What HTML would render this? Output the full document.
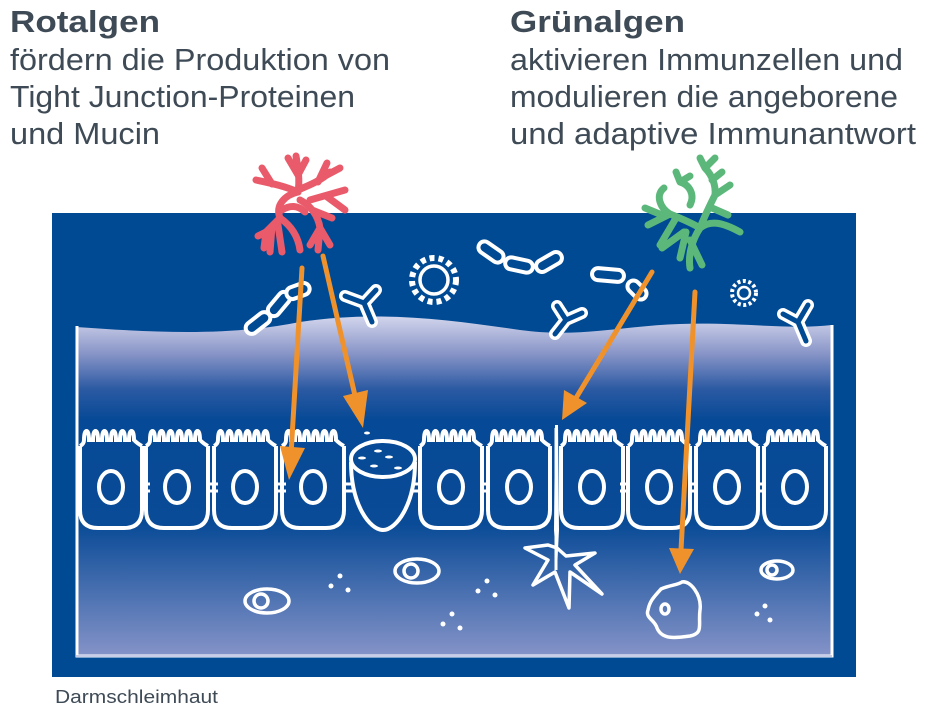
<!DOCTYPE html>
<html><head><meta charset="utf-8"><style>
html,body{margin:0;padding:0;background:#fff;}
svg{display:block;}
</style></head><body>
<svg width="945" height="709" viewBox="0 0 945 709" xmlns="http://www.w3.org/2000/svg">
<defs>
<linearGradient id="g1" x1="0" y1="0" x2="0" y2="1">
<stop offset="0" stop-color="#d2d5ec"/>
<stop offset="0.35" stop-color="#8a96c8"/>
<stop offset="0.7" stop-color="#2c5aa3"/>
<stop offset="1" stop-color="#064996"/>
</linearGradient>
<linearGradient id="g2" x1="0" y1="0" x2="0" y2="1">
<stop offset="0" stop-color="#064996"/>
<stop offset="0.42" stop-color="#0a4b97"/>
<stop offset="1" stop-color="#8593c8"/>
</linearGradient>
<g id="cell" fill="none" stroke="#fff" stroke-width="4">
<path d="M2,446 L2,510 Q2,528 20,528 L46,528 Q64,528 64,510 L64,446" />
<path d="M2,446 Q6,444 6,440 c0,-12 5,-12 5,0 l4,0 c0,-12 5,-12 5,0 l4,0 c0,-12 5,-12 5,0 l4,0 c0,-12 5,-12 5,0 l4,0 c0,-12 5,-12 5,0 l4,0 c0,-12 5,-12 5,0 Q60,444 64,446"/>
<ellipse cx="33" cy="487" rx="12" ry="16"/>
</g>
</defs>
<rect x="52" y="213" width="804" height="464" fill="#004a94"/>
<path d="M76,327 C160,333 230,336 300,322 C380,310 450,320 520,330 C580,338 620,326 680,324 C740,322 790,330 832,325 L832,420 L76,420 Z" fill="url(#g1)"/>
<rect x="76" y="419" width="756" height="14" fill="#064996"/>
<rect x="76" y="430" width="756" height="226" fill="url(#g2)"/>
<path d="M77,326 L77,656 L832,656 L832,325" fill="none" stroke="#fff" stroke-width="3"/>
<path d="M76,656 L832,656" stroke="#c8cde8" stroke-width="2"/>
<!-- cells -->
<use href="#cell" x="78"/>
<use href="#cell" x="144"/>
<use href="#cell" x="212"/>
<use href="#cell" x="280"/>
<use href="#cell" x="418"/>
<use href="#cell" x="486"/>
<use href="#cell" x="559"/>
<use href="#cell" x="626"/>
<use href="#cell" x="694"/>
<use href="#cell" x="762"/>
<!-- junctions -->
<g stroke="#fff" stroke-width="3">
<path d="M140,484h10M140,491h10M208,484h10M208,491h10M276,484h10M276,491h10M344,484h10M344,491h10M412,484h10M412,491h10M480,484h10M480,491h10M620,484h10M620,491h10M688,484h10M688,491h10M756,484h10M756,491h10"/>
</g>
<!-- goblet cell -->
<g fill="none" stroke="#fff" stroke-width="4">
<ellipse cx="383" cy="459" rx="32" ry="18"/>
<path d="M351,462 C351,505 370,530 383,530 C396,530 415,505 415,462"/>
</g>
<g fill="#fff"><ellipse cx="367" cy="433" rx="3" ry="1.5"/><ellipse cx="378" cy="451" rx="4" ry="1.5"/><ellipse cx="362" cy="458" rx="4" ry="1.5"/><ellipse cx="389" cy="457" rx="4" ry="1.5"/><ellipse cx="374" cy="466" rx="4" ry="1.5"/><ellipse cx="398" cy="468" rx="4" ry="1.5"/></g>
<!-- spike between cells -->
<path d="M555,425 L558,425 L559,530 L557,570 L554,530 Z" fill="#fff"/>
<line x1="556" y1="428" x2="556" y2="570" stroke="#fff" stroke-width="3"/>
<!-- star cell -->
<path d="M557,548 L548,545 L525,548 L548,560 L533,585 L555,572 L569,608 L570,572 L602,594 L575,565 L595,553 L566,556 Z" fill="none" stroke="#fff" stroke-width="3.5" stroke-linejoin="round"/>
<!-- lower cells -->
<g fill="none" stroke="#fff" stroke-width="3.5">
<ellipse cx="267" cy="601" rx="22" ry="12"/><circle cx="261" cy="601" r="7"/>
<ellipse cx="417" cy="571" rx="22" ry="12"/><circle cx="411" cy="571" r="7"/>
<ellipse cx="777" cy="570" rx="16" ry="9"/><circle cx="772" cy="570" r="5"/>
<path d="M661,589 C670,585 678,585 682,582 C690,580 702,595 700,610 C698,625 704,633 690,636 C676,638 662,640 657,628 C655,620 645,618 648,610 C650,600 655,596 661,589 Z"/>
<ellipse cx="665" cy="609" rx="4" ry="5"/>
</g>
<g fill="#fff">
<circle cx="340" cy="576" r="2.5"/><circle cx="331" cy="586" r="2.5"/><circle cx="348" cy="590" r="2.5"/>
<circle cx="487" cy="581" r="2.5"/><circle cx="478" cy="591" r="2.5"/><circle cx="495" cy="595" r="2.5"/>
<circle cx="452" cy="614" r="2.5"/><circle cx="443" cy="624" r="2.5"/><circle cx="460" cy="628" r="2.5"/>
<circle cx="765" cy="606" r="2.5"/><circle cx="757" cy="614" r="2.5"/><circle cx="770" cy="620" r="2.5"/>
</g>
<!-- bacteria -->
<g fill="#004a94" stroke="#fff" stroke-width="4">
<rect x="-14" y="-6" width="28" height="12" rx="6" transform="translate(258,323) rotate(-38)"/>
<rect x="-14" y="-6" width="28" height="12" rx="6" transform="translate(279,304) rotate(-50)"/>
<rect x="-12" y="-6" width="24" height="12" rx="6" transform="translate(298,291) rotate(-20)"/>
<rect x="-14" y="-6" width="28" height="12" rx="6" transform="translate(491,252) rotate(35)"/>
<rect x="-14" y="-6" width="28" height="12" rx="6" transform="translate(519,265) rotate(12)"/>
<rect x="-14" y="-6" width="28" height="12" rx="6" transform="translate(549,262) rotate(-30)"/>
<rect x="-16" y="-6" width="32" height="12" rx="6" transform="translate(608,275) rotate(5)"/>
<rect x="-11" y="-6" width="22" height="12" rx="6" transform="translate(637,290) rotate(45)"/>
</g>
<!-- antibodies -->
<g fill="none" stroke-linecap="round" stroke-linejoin="round">
<g stroke="#fff" stroke-width="12">
<path d="M345,296 L364,303 L376,290 M364,303 L372,322"/>
<path d="M557,306 L566,320 L582,313 M566,320 L555,334"/>
<path d="M783,314 L798,322 L808,305 M798,322 L806,341"/>
</g>
<g stroke="#004a94" stroke-width="5">
<path d="M345,296 L364,303 L376,290 M364,303 L372,322"/>
<path d="M557,306 L566,320 L582,313 M566,320 L555,334"/>
<path d="M783,314 L798,322 L808,305 M798,322 L806,341"/>
</g>
</g>
<!-- viruses -->
<g fill="none" stroke="#fff" stroke-width="3.5">
<circle cx="434" cy="280" r="14"/>
<circle cx="434" cy="280" r="22" stroke-dasharray="5 4" stroke-width="6"/>
<circle cx="744" cy="293" r="6" stroke-width="2.5"/>
<circle cx="744" cy="293" r="12" stroke-dasharray="3 2.5" stroke-width="4"/>
</g>
<!-- red algae -->
<g fill="none" stroke="#e95b6a" stroke-width="7" stroke-linecap="round" stroke-linejoin="round">
<path d="M300,250 C298,235 290,225 280,218 C275,205 285,195 298,192"/>
<path d="M298,192 C300,180 298,168 296,156 M298,175 L288,158 M298,175 L306,160 M298,190 C310,185 322,180 330,172 M318,182 L327,163 M325,176 L340,168"/>
<path d="M298,192 C285,186 270,183 256,180 M272,184 L262,168"/>
<path d="M280,218 L266,232 L264,248 M272,226 L270,252 M278,225 L282,252 M266,232 L258,236"/>
<path d="M300,200 C310,205 318,215 320,228 M312,210 L332,218 M320,228 L310,245 M320,228 L318,250 M320,228 L330,245 M310,200 L345,190 M326,196 L345,210"/>
<path d="M282,210 C290,205 298,205 305,212"/>
</g>
<!-- green algae -->
<g fill="none" stroke="#5cb87a" stroke-width="7" stroke-linecap="round" stroke-linejoin="round">
<path d="M690,268 C688,255 692,240 700,228 C710,220 722,222 740,232"/>
<path d="M700,228 C690,222 680,218 670,214 C660,208 655,195 664,188 M670,214 L648,225 M662,215 L645,208 M676,218 L660,245 M686,232 L680,258 M690,240 L702,265 M684,232 L662,248"/>
<path d="M700,228 C705,215 710,205 715,195 C716,185 712,175 705,168 M715,195 L730,185 M712,180 L722,172 M705,168 L700,158 M705,168 L715,158 M712,208 L728,215 M690,205 C695,195 690,185 680,182 M680,182 L676,172 M680,182 L690,176"/>
</g>
<!-- arrows -->
<g stroke="#f0922b" stroke-width="5" stroke-linecap="round">
<line x1="302" y1="268" x2="291" y2="455"/>
<line x1="323" y1="256" x2="356" y2="400"/>
<line x1="652" y1="272" x2="576" y2="398"/>
<line x1="695" y1="292" x2="681" y2="550"/>
</g>
<g fill="#f0922b">
<polygon points="280,446 305,448 289,480"/>
<polygon points="343,396 368,390 363,428"/>
<polygon points="564,390 587,403 562,420"/>
<polygon points="669,548 694,549 680,574"/>
</g>
<!-- texts -->
<g font-family="'Liberation Sans', sans-serif" fill="#3e4a55">
<text x="10" y="32" font-size="31" font-weight="bold" textLength="150" lengthAdjust="spacingAndGlyphs">Rotalgen</text>
<text x="10" y="70" font-size="31" textLength="380" lengthAdjust="spacingAndGlyphs">fördern die Produktion von</text>
<text x="10" y="107" font-size="31" textLength="345" lengthAdjust="spacingAndGlyphs">Tight Junction-Proteinen</text>
<text x="10" y="144" font-size="31" textLength="150" lengthAdjust="spacingAndGlyphs">und Mucin</text>
<text x="510" y="32" font-size="31" font-weight="bold" textLength="175" lengthAdjust="spacingAndGlyphs">Grünalgen</text>
<text x="510" y="70" font-size="31" textLength="393" lengthAdjust="spacingAndGlyphs">aktivieren Immunzellen und</text>
<text x="510" y="107" font-size="31" textLength="388" lengthAdjust="spacingAndGlyphs">modulieren die angeborene</text>
<text x="510" y="144" font-size="31" textLength="406" lengthAdjust="spacingAndGlyphs">und adaptive Immunantwort</text>
<text x="55" y="703" font-size="18" textLength="163" lengthAdjust="spacingAndGlyphs">Darmschleimhaut</text>
</g>
</svg>
</body></html>
